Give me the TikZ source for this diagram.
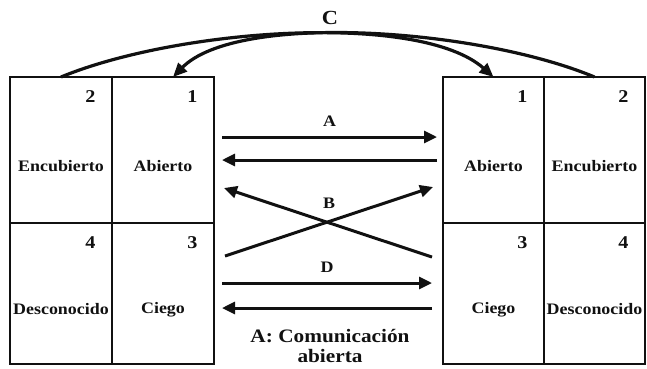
\documentclass[tikz,border=0pt]{standalone}
\usepackage{fontspec}
\setmainfont{Liberation Serif}[FakeStretch=1.12]
\usepackage{tikz}
\usetikzlibrary{arrows.meta,positioning,calc}
\definecolor{ink}{HTML}{111111}
\newcommand{\lblfont}{\bfseries\fontsize{16}{18}\selectfont}

\begin{document}
\begin{tikzpicture}[x=1pt, y=-1pt,
  font=\lblfont,
  every node/.style={align=center, text=ink},
  cell/.style={draw=ink, line width=2pt, minimum width=102pt, minimum height=146pt,
               inner sep=0pt, outer sep=0pt},
  lowcell/.style={cell, minimum height=141pt},
  rcell/.style={cell, minimum width=101pt},
  rlowcell/.style={lowcell, minimum width=101pt},
  num/.style={anchor=north east, xshift=-13pt, yshift=-10pt, font=\bfseries\fontsize{18}{20}\selectfont},
  nm/.style={yshift=-16pt},
  arr/.style={-{Triangle[length=13pt, width=12pt]}, line width=3pt, draw=ink},
  arc/.style={-{Triangle[length=14pt, width=12pt]}, line width=3.2pt, draw=ink},
]
\useasboundingbox (0,0) rectangle (647,368);
% left window
\node[cell, label={[num]north east:2}, label={[nm]center:Encubierto}] (encL) at (61,150) {};
\node[cell, right=0pt of encL, label={[num]north east:1}, label={[nm]center:Abierto}] (abL) {};
\node[lowcell, below=0pt of encL, label={[num]north east:4}, label={[nm]center:Desconocido}] (desL) {};
\node[lowcell, below=0pt of abL, label={[num]north east:3}, label={[nm]center:Ciego}] (ciL) {};
% right window
\node[rcell, label={[num]north east:1}, label={[nm]center:Abierto}] (abR) at (493.5,150) {};
\node[rcell, right=0pt of abR, label={[num]north east:2}, label={[nm]center:Encubierto}] (encR) {};
\node[rlowcell, below=0pt of abR, label={[num]north east:3}, label={[nm]center:Ciego}] (ciR) {};
\node[rlowcell, below=0pt of encR, label={[num]north east:4}, label={[nm]center:Desconocido}] (desR) {};
% C
\node[font=\bfseries\fontsize{20}{22}\selectfont] (lblC) at (330,18) {C};
\draw[arc] (encL.north) .. controls (180,28) and (420,12) .. (abR.north);
\draw[arc] (encR.north) .. controls (477,28) and (237,12) .. ([xshift=10pt]abL.north);
% A
\draw[arr] ([shift={(8,60)}]abL.north east) -- ([shift={(-6,60)}]abR.north west)
  node[midway, above=6pt] (lblA) {A};
\draw[arr] ([shift={(-6,83)}]abR.north west) -- ([shift={(8,83)}]abL.north east);
% B
\draw[arr] ([shift={(-11,34)}]ciR.north west) -- ([shift={(10,111)}]abL.north east);
\draw[arr] ([shift={(11,33)}]ciL.north east) -- ([shift={(-10,110)}]abR.north west)
  node[midway, above=8pt] (lblB) {B};
% D
\draw[arr] ([shift={(8,60)}]ciL.north east) -- ([shift={(-11,60)}]ciR.north west)
  node[midway, above=6pt] (lblD) {D};
\draw[arr] ([shift={(-11,85)}]ciR.north west) -- ([shift={(8,85)}]ciL.north east);
\node[font=\bfseries\fontsize{19}{20}\selectfont] (note) at (330,346) {A: Comunicación\\abierta};
\end{tikzpicture}
\end{document}
